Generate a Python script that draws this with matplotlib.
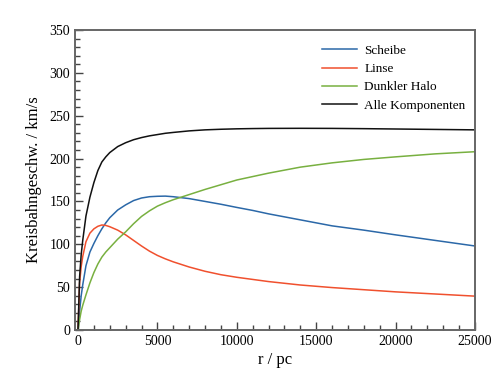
import matplotlib
matplotlib.use("Agg")
import matplotlib.pyplot as plt
from matplotlib.ticker import MultipleLocator

plt.rcParams['font.family'] = ['Liberation Serif', 'DejaVu Serif']

r_pc = [0, 100, 200, 300, 500, 750, 1000, 1250, 1500, 1750, 2000, 2500, 3000, 3500,
        4000, 4500, 5000, 5500, 6000, 7000, 8000, 9000, 10000, 11000, 12000, 14000,
        16000, 18000, 20000, 22500, 25000]

scheibe = [0, 22, 40, 53, 75, 91, 101, 110, 118, 125, 131, 140, 146, 151,
           154, 155.5, 156, 156.2, 155.5, 153.3, 150, 146.7, 143, 139.5, 135.5, 128.5,
           121.5, 116.5, 111, 104.5, 98]

linse = [0, 55, 74, 86, 103, 113, 118, 121, 122.5, 122, 120.5, 116.5, 111, 104.5,
         98, 92, 87, 83, 79.5, 73.5, 68.5, 64.5, 61.5, 59, 56.5, 52.5,
         49.5, 47, 44.5, 42, 39.5]

halo = [0, 12, 22, 29, 41, 55, 67, 77, 85, 91, 96, 106, 114.5, 124,
        132.5, 139, 144.5, 148.5, 152, 158, 164, 169.5, 175, 179, 183, 190,
        195, 199, 202, 205.5, 208]

alle = [0, 62, 88, 105, 133, 155, 172, 186, 196, 202, 207, 214, 218.5, 222,
        224.5, 226.5, 228, 229.5, 230.5, 232.3, 233.5, 234.2, 234.7, 235, 235.2, 235.3,
        235.2, 234.9, 234.5, 234, 233.5]

labels = ["Scheibe", "Linse", "Dunkler Halo", "Alle Komponenten"]
colors = ["#2b68a8", "#f0502e", "#78b040", "#111111"]

fig = plt.figure(figsize=(5, 3.75), dpi=100)
ax = fig.add_axes([0.15, 0.12, 0.80, 0.80])

for ys, lab, c in zip([scheibe, linse, halo, alle], labels, colors):
    ax.plot(r_pc, ys, color=c, lw=1.1, label=lab)

ax.set_xlim(-190, 25000)
ax.set_ylim(0, 350)
ax.xaxis.set_major_locator(MultipleLocator(5000))
ax.xaxis.set_minor_locator(MultipleLocator(1000))
ax.yaxis.set_major_locator(MultipleLocator(50))
ax.yaxis.set_minor_locator(MultipleLocator(10))
ax.tick_params(which='both', direction='in', top=False, right=False,
               labelsize=10, color='#444444', width=1.0)
ax.tick_params(which='major', length=6)
ax.tick_params(which='minor', length=3.5)
for s in ax.spines.values():
    s.set_color('#666666')
    s.set_linewidth(1.4)

ax.set_xlabel("r / pc", fontsize=12, labelpad=3)
ax.set_ylabel("Kreisbahngeschw. / km/s", fontsize=12, labelpad=5)

ax.legend(loc='upper left', bbox_to_anchor=(0.605, 0.968), frameon=False,
          fontsize=9.5, handlelength=2.6, labelspacing=0.45, borderaxespad=0,
          handletextpad=0.6)

fig.savefig("out.png", dpi=100)
